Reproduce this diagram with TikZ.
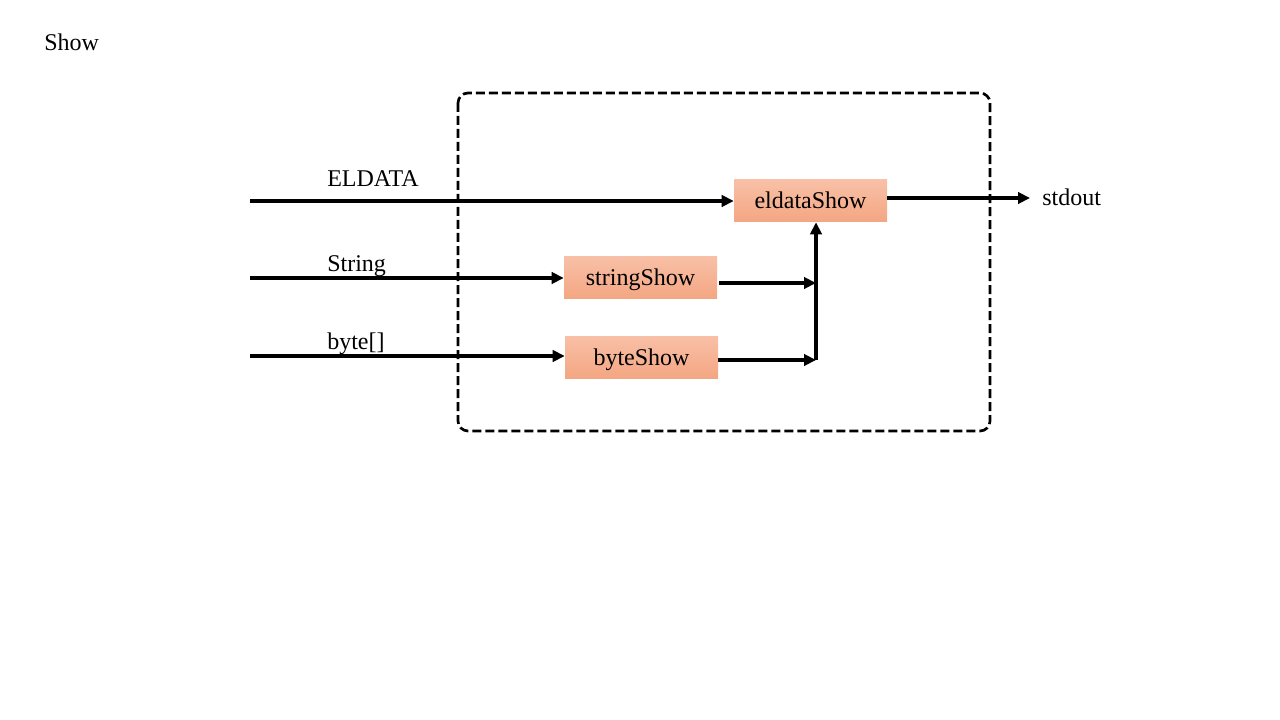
\documentclass[tikz,border=0pt]{standalone}
\usepackage{fontspec}
\setmainfont{Liberation Serif}
\usetikzlibrary{arrows.meta,calc}
\tikzset{
  fn/.style={minimum width=114.75pt, minimum height=31.5pt, inner sep=0pt,
    text height=12pt, text depth=0pt,
    top color=showtop, bottom color=showbot, font=\fontsize{18}{21}\selectfont},
  lbl/.style={anchor=base west, inner sep=0pt, font=\fontsize{18}{21}\selectfont},
  flow/.style={line width=2.3pt, -{Triangle[length=9pt,width=8.5pt]}},
}
\definecolor{showtop}{HTML}{F8C0A7}
\definecolor{showbot}{HTML}{F4A682}
\begin{document}
\begin{tikzpicture}[x=0.75pt, y=-0.75pt, line join=round]
\useasboundingbox (0,0) rectangle (1280,720);
\node[lbl] (title) at (44,51) {Show};
% the group
\draw[line width=2pt, dash pattern=on 6.75pt off 3pt, rounded corners=7.5pt] (458,93) rectangle (990,431);
% functions
\node[fn] (eldata) at (810.5,201) {eldataShow};
\node[fn] (string) at (640.5,277.5) {stringShow};
\node[fn] (byte) at (641.5,357) {byteShow};
% inputs
\coordinate (inE) at (250,201);
\coordinate (inS) at (250,278);
\coordinate (inB) at (250,356);
\draw[flow] (inE) -- (eldata.west |- inE);
\draw[flow] (inS) -- (string.west |- inS);
\draw[flow] (inB) -- (byte.west |- inB);
\node[lbl] (lE) at (327,187) {ELDATA};
\node[lbl] (lS) at (327,272) {String};
\node[lbl] (lB) at (327,349) {byte[]};
% merge
\coordinate (jS) at (816,283);
\coordinate (jB) at (816,360);
\draw[flow] ($(string.east |- jS)+(2,0)$) -- (jS);
\draw[flow] (byte.east |- jB) -- (jB);
\draw[flow] (jB) -- (eldata.south -| jB);
% output
\node[lbl] (out) at (1042,206) {stdout};
\draw[flow] (eldata.east |- 0,198) -- (1030,198);
\end{tikzpicture}
\end{document}
